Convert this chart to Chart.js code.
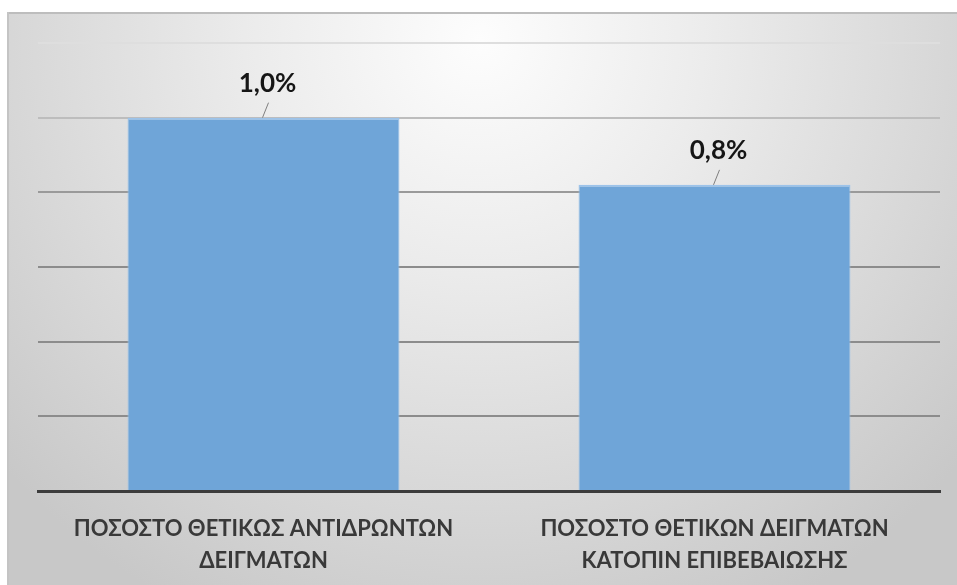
<!DOCTYPE html>
<html>
<head>
<meta charset="utf-8">
<script src="https://cdn.jsdelivr.net/npm/chart.js@4"></script>
<style>
  html, body { margin: 0; padding: 0; background: #ffffff; }
  #wrap { width: 957px; height: 585px; }
</style>
</head>
<body>
<div id="wrap"><canvas id="chart" width="957" height="585"></canvas></div>
<script>
// data
const categories = [
    ['ΠΟΣΟΣΤΟ ΘΕΤΙΚΩΣ ΑΝΤΙΔΡΩΝΤΩΝ', 'ΔΕΙΓΜΑΤΩΝ'],
    ['ΠΟΣΟΣΤΟ ΘΕΤΙΚΩΝ ΔΕΙΓΜΑΤΩΝ', 'ΚΑΤΟΠΙΝ ΕΠΙΒΕΒΑΙΩΣΗΣ']
];
const values = [1.0, 0.82];
const valueLabels = ['1,0%', '0,8%'];

// grey panel behind the chart
const panel = {
    id: 'panel',
    beforeDraw(chart) {
        const ctx = chart.ctx;
        ctx.save();
        ctx.fillStyle = '#ffffff';
        ctx.fillRect(0, 0, chart.width, chart.height);
        const g = ctx.createRadialGradient(480, 40, 0, 480, 40, 640);
        g.addColorStop(0, '#fdfdfd');
        g.addColorStop(0.35, '#ececec');
        g.addColorStop(0.75, '#d6d6d6');
        g.addColorStop(1, '#c8c8c8');
        ctx.fillStyle = g;
        ctx.fillRect(7, 12, chart.width - 7, chart.height - 12);
        ctx.fillStyle = '#bdbdbd';
        ctx.fillRect(7, 12, chart.width - 7, 2);
        ctx.fillStyle = '#c4c4c4';
        ctx.fillRect(7, 12, 2, chart.height - 12);
        ctx.restore();
    }
};

// value labels with short leader lines
const valueLabelPlugin = {
    id: 'valueLabels',
    afterDatasetsDraw(chart) {
        const ctx = chart.ctx;
        const meta = chart.getDatasetMeta(0);
        ctx.save();
        meta.data.forEach((bar, i) => {
            const x = bar.x;
            const y = bar.y;
            ctx.strokeStyle = '#7f7f7f';
            ctx.lineWidth = 1;
            ctx.beginPath();
            ctx.moveTo(x - 1, y);
            ctx.lineTo(x + 5, y - 15);
            ctx.stroke();
            ctx.fillStyle = '#161616';
            ctx.font = 'bold 26px Lato';
            ctx.textAlign = 'center';
            ctx.textBaseline = 'middle';
            ctx.fillText(valueLabels[i], x + 4, y - 34);
        });
        ctx.restore();
    }
};

const gridColors = { 1.2: '#dedede', 1: '#bdbdbd', 0.8: '#9a9a9a' };

const data = {
    labels: categories,
    datasets: [{
        data: values,
        backgroundColor: '#6fa5d8',
        borderColor: '#9cc3ea',
        borderWidth: { top: 2, left: 1, right: 1, bottom: 0 },
        barPercentage: 0.603,
        categoryPercentage: 1.0
    }]
};

const config = {
    type: 'bar',
    data,
    options: {
        responsive: false,
        animation: false,
        layout: { padding: { left: 38, right: 17, top: 43, bottom: 0 } },
        plugins: {
            legend: { display: false },
            tooltip: { enabled: false }
        },
        scales: {
            y: {
                min: 0,
                max: 1.2,
                ticks: { display: false, stepSize: 0.2 },
                border: { display: false },
                grid: {
                    drawTicks: false,
                    lineWidth: 2,
                    color: (c) => {
                        const v = Math.round(c.tick.value * 10) / 10;
                        if (v === 0) return 'rgba(0,0,0,0)';
                        return gridColors[v] || '#8c8c8c';
                    }
                },
                afterFit: (scale) => { scale.width = 0; }
            },
            x: {
                grid: { display: false, drawTicks: false },
                border: { display: true, color: '#3c3c3c', width: 3 },
                ticks: {
                    color: '#393939',
                    padding: 22,
                    maxRotation: 0,
                    autoSkip: false,
                    font: { family: 'Lato', weight: 'bold', size: 22, lineHeight: 1.45 }
                },
                afterFit: (scale) => { scale.height = 94; }
            }
        }
    },
    plugins: [panel, valueLabelPlugin]
};

const myChart = new Chart(document.getElementById('chart'), config);
</script>
</body>
</html>
